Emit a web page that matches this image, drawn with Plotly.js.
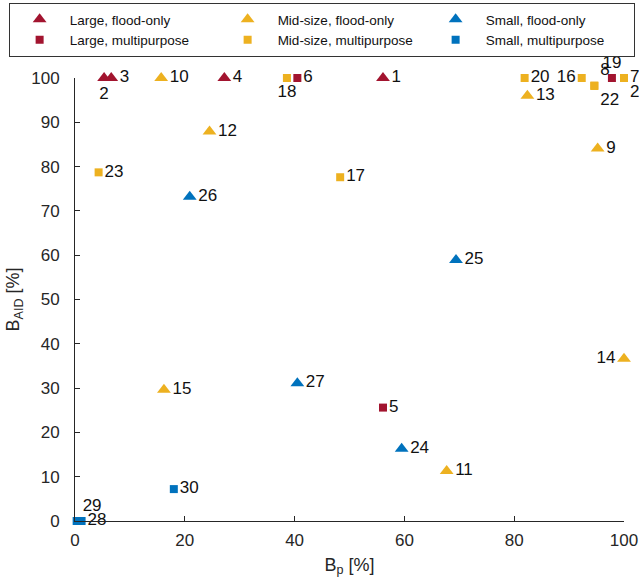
<!DOCTYPE html>
<html>
<head>
<meta charset="utf-8">
<script src="https://cdn.plot.ly/plotly-3.0.1.min.js"></script>
<style>
  html, body { margin: 0; padding: 0; background: #fff; }
  #chart { width: 639px; height: 582px; }
</style>
</head>
<body>
<div id="chart"></div>
<script>
// Reservoir groups: B_p (x) and B_AID (y) in percent, with reservoir ids
const largeFloodIds = ['1', '2', '3', '4'];
const largeFloodBp = [56.1, 5.3, 6.6, 27.2];
const largeFloodBaid = [100, 100, 100, 100];
const largeFloodPos = ['middle right', 'bottom center', 'middle right', 'middle right'];

const midFloodIds = ['9', '10', '11', '12', '13', '14', '15'];
const midFloodBp = [95.2, 15.7, 67.7, 24.5, 82.4, 100, 16.2];
const midFloodBaid = [84.1, 100, 11.3, 87.9, 96.0, 36.6, 29.6];
const midFloodPos = ['middle right', 'middle right', 'middle right', 'middle right', 'middle right', 'middle left', 'middle right'];

const smallFloodIds = ['24', '25', '26', '27'];
const smallFloodBp = [59.5, 69.4, 20.9, 40.5];
const smallFloodBaid = [16.3, 58.9, 73.2, 31.1];
const smallFloodPos = ['middle right', 'middle right', 'middle right', 'middle right'];

const largeMultiIds = ['5', '6', '19'];
const largeMultiBp = [56.1, 40.5, 97.8];
const largeMultiBaid = [25.6, 100, 100];
const largeMultiPos = ['middle right', 'middle right', 'top center'];

const midMultiIds = ['7', '8', '16', '17', '18', '20', '21', '22', '23'];
const midMultiBp = [100, 94.6, 92.3, 48.3, 38.6, 81.9, 100, 94.6, 4.3];
const midMultiBaid = [100, 98.3, 100, 77.6, 100, 100, 100, 98.2, 78.7];
const midMultiPos = ['middle right', 'top right', 'middle left', 'middle right', 'bottom center', 'middle right', 'bottom right', 'bottom right', 'middle right'];

const smallMultiIds = ['28', '29', '30'];
const smallMultiBp = [1.2, 0.3, 18.0];
const smallMultiBaid = [0, 0, 7.2];
const smallMultiPos = ['middle right', 'top right', 'middle right'];

const RED = '#A2142F', YELLOW = '#EDB120', BLUE = '#0072BD';
const AXIS = '#262626';
const FONT = 'Liberation Sans, Arial, sans-serif';

function group(name, x, y, ids, pos, color, symbol, size) {
  return {
    type: 'scatter', mode: 'markers+text', name: name,
    x: x, y: y, text: ids, textposition: pos,
    textfont: {family: FONT, size: 17, color: '#111'},
    marker: {color: color, symbol: symbol, size: size, line: {width: 0}},
    cliponaxis: false, hoverinfo: 'x+y+text'
  };
}

const traces = [
  group('Large, flood-only', largeFloodBp, largeFloodBaid, largeFloodIds, largeFloodPos, RED, 'triangle-up', 12),
  group('Mid-size, flood-only', midFloodBp, midFloodBaid, midFloodIds, midFloodPos, YELLOW, 'triangle-up', 12),
  group('Small, flood-only', smallFloodBp, smallFloodBaid, smallFloodIds, smallFloodPos, BLUE, 'triangle-up', 12),
  group('Large, multipurpose', largeMultiBp, largeMultiBaid, largeMultiIds, largeMultiPos, RED, 'square', 8),
  group('Mid-size, multipurpose', midMultiBp, midMultiBaid, midMultiIds, midMultiPos, YELLOW, 'square', 8),
  group('Small, multipurpose', smallMultiBp, smallMultiBaid, smallMultiIds, smallMultiPos, BLUE, 'square', 8)
];

const axisCommon = {
  range: [0, 100], dtick: 20, showline: true, linecolor: AXIS, linewidth: 1,
  ticks: 'inside', ticklen: 5, tickcolor: AXIS, tickwidth: 1,
  showgrid: false, zeroline: false, automargin: false,
  tickfont: {family: FONT, size: 17, color: AXIS}
};

const layout = {
  width: 639, height: 582,
  margin: {l: 74.5, r: 14.5, t: 78, b: 61, autoexpand: false},
  paper_bgcolor: '#fff', plot_bgcolor: '#fff',
  font: {family: FONT, color: AXIS},
  showlegend: true,
  xaxis: Object.assign({}, axisCommon, {
    ticklabelstandoff: 4,
    title: {text: 'B<sub>p</sub> [%]', font: {family: FONT, size: 18, color: AXIS}, standoff: 8}
  }),
  yaxis: Object.assign({}, axisCommon, {
    dtick: 10, ticklabelstandoff: 11,
    title: {text: 'B<sub>AID</sub> [%]', font: {family: FONT, size: 18, color: AXIS}, standoff: 6}
  }),
  legend: {
    orientation: 'h',
    x: -0.1209, xanchor: 'left', y: 1.1693, yanchor: 'top',
    bordercolor: '#333', borderwidth: 1, bgcolor: 'rgba(255,255,255,0)',
    font: {family: FONT, size: 13.5, color: '#111'},
    itemwidth: 50, entrywidth: 143, tracegroupgap: 0
  }
};

Plotly.newPlot('chart', traces, layout, {displayModeBar: false, staticPlot: true});
</script>
</body>
</html>
